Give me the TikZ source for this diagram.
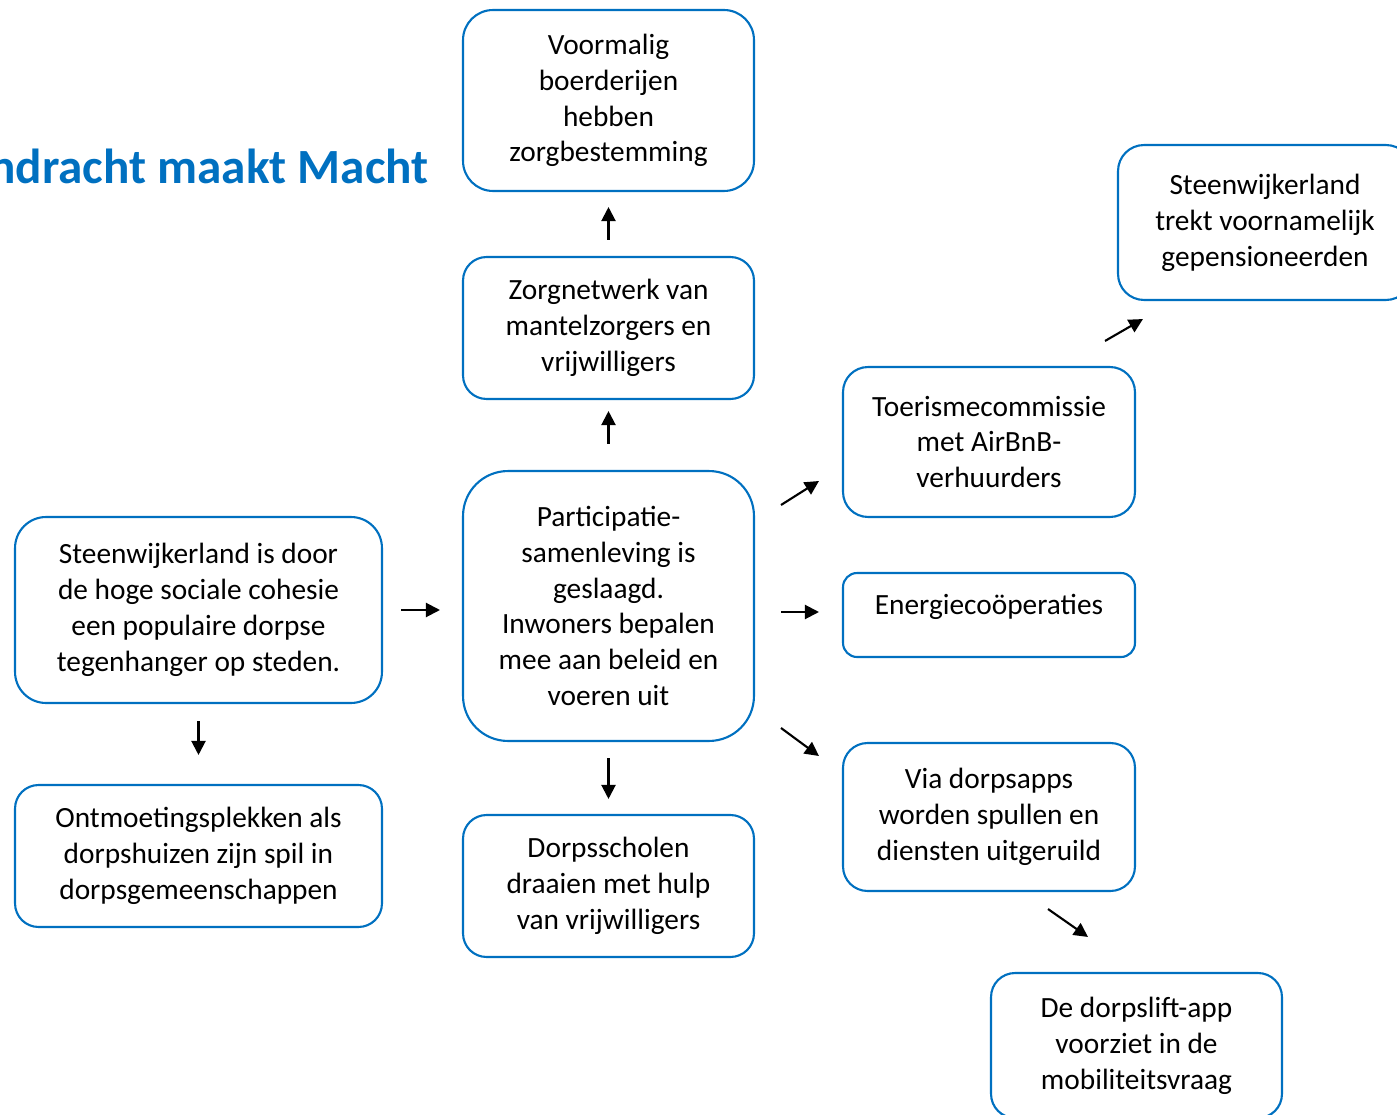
\documentclass[tikz,border=0pt]{standalone}
\usepackage{fontspec}
\setmainfont{Carlito}
\usetikzlibrary{arrows.meta}
\definecolor{kaderblauw}{RGB}{0,112,192}

\tikzset{
  kader/.style={draw=kaderblauw, line width=1.2pt, align=center, inner sep=2pt, minimum width=5.82cm,
    font=\fontsize{16.7}{20.4}\selectfont},
  pijl/.style={-{Triangle[length=8pt,width=8pt]}, line width=1.2pt}
}

\begin{document}
\begin{tikzpicture}[x=0.02cm, y=-0.02cm]
\useasboundingbox (0,0) rectangle (1397,1115);

%box centres
\coordinate (cvoorm) at (608.5,100.5); \coordinate (czorg) at (608.5,328); \coordinate (cpart) at (608.5,606); \coordinate (cschool) at (608.5,886);
\coordinate (csteen) at (198.5,610); \coordinate (contm) at (198.5,856);
\coordinate (ctoer) at (989,442); \coordinate (cener) at (989,615); \coordinate (capps) at (989,817);
\coordinate (cpens) at (1265,222.5); \coordinate (clift) at (1136.5,1045.5);

%title
\node [anchor=base east, inner sep=0pt, text=kaderblauw, font=\fontsize{28}{34}\selectfont\bfseries] (titel) at (429,184) {Eendracht maakt Macht};

%middle column
\node [kader, minimum height=3.62cm, rounded corners=0.6cm] (voormalig) at (cvoorm) {Voormalig\\boerderijen\\hebben\\zorgbestemming};
\node [kader, minimum height=2.84cm, rounded corners=0.47cm] (zorgnetwerk) at (czorg) {Zorgnetwerk van\\mantelzorgers en\\vrijwilligers};
\node [kader, minimum height=5.4cm, rounded corners=0.9cm] (participatie) at (cpart) {Participatie-\\samenleving is\\geslaagd.\\Inwoners bepalen\\mee aan beleid en\\voeren uit};
\node [kader, minimum height=2.84cm, rounded corners=0.47cm] (dorpsscholen) at (cschool) {Dorpsscholen\\draaien met hulp\\van vrijwilligers};

%left column
\node [kader, minimum width=7.34cm, minimum height=3.72cm, rounded corners=0.62cm] (steenwijk) at (csteen) {Steenwijkerland is door\\de hoge sociale cohesie\\een populaire dorpse\\tegenhanger op steden.};
\node [kader, minimum width=7.34cm, minimum height=2.84cm, rounded corners=0.47cm] (ontmoeting) at (contm) {Ontmoetingsplekken als\\dorpshuizen zijn spil in\\dorpsgemeenschappen};

%right columns
\node [kader, minimum width=5.84cm, minimum height=3cm, rounded corners=0.5cm] (toerisme) at (ctoer) {Toerismecommissie\\met AirBnB-\\verhuurders};
\node [kader, minimum width=5.84cm, minimum height=1.68cm, rounded corners=0.28cm, text depth=12pt] (energie) at (cener) {Energiecoöperaties};
\node [kader, minimum width=5.84cm, minimum height=2.96cm, rounded corners=0.49cm] (dorpsapps) at (capps) {Via dorpsapps\\worden spullen en\\diensten uitgeruild};
\node [kader, minimum width=5.88cm, minimum height=3.1cm, rounded corners=0.52cm] (gepensioneerd) at (cpens) {Steenwijkerland\\trekt voornamelijk\\gepensioneerden};
\node [kader, minimum height=2.9cm, rounded corners=0.48cm] (dorpslift) at (clift) {De dorpslift-app\\voorziet in de\\mobiliteitsvraag};

%arrows
\draw [pijl, shorten <=0.36cm, shorten >=0.44cm] (steenwijk.east) -- (steenwijk.east -| participatie.west);
\draw [pijl, shorten <=0.34cm, shorten >=0.58cm] (steenwijk.south) -- (ontmoeting.north);
\draw [pijl, shorten <=0.52cm, shorten >=0.22cm] (participatie.north) -- (zorgnetwerk.south);
\draw [pijl, shorten <=0.32cm, shorten >=0.30cm] (zorgnetwerk.north) -- (voormalig.south);
\draw [pijl, shorten <=0.32cm, shorten >=0.30cm] (participatie.south) -- (dorpsscholen.north);
\draw [pijl] ([shift={(26,-101)}]participatie.east) -- ([shift={(-23,39)}]toerisme.west);
\draw [pijl, shorten <=0.52cm, shorten >=0.46cm] ([yshift=-0.12cm]participatie.east) -- ([yshift=-0.12cm]participatie.east -| energie.west);
\draw [pijl] ([shift={(26,122)}]participatie.east) -- ([shift={(-23,-61)}]dorpsapps.west);
\draw [pijl] ([shift={(-31,-25)}]toerisme.north east) -- ([shift={(26,18)}]gepensioneerd.south west);
\draw [pijl] ([shift={(59,17)}]dorpsapps.south) -- ([shift={(-48.5,-35)}]dorpslift.north);

\end{tikzpicture}
\end{document}
